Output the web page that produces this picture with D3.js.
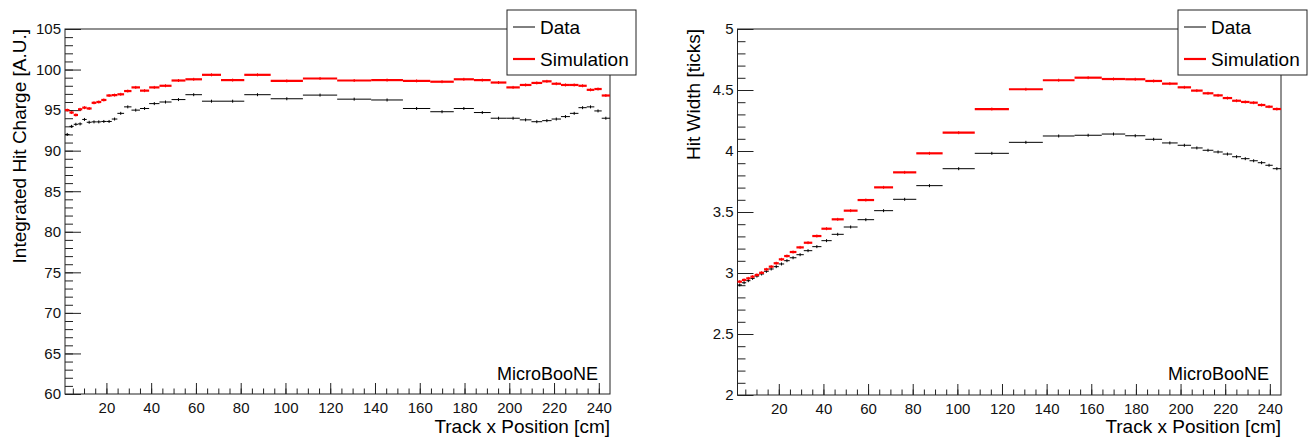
<!DOCTYPE html>
<html>
<head>
<meta charset="utf-8">
<script src="https://cdn.jsdelivr.net/npm/d3@7"></script>
<style>
body{margin:0;background:#fff;}
svg{display:block;font-family:"Liberation Sans",Arial,Helvetica,sans-serif;}
</style>
</head>
<body>
<svg id="chart" width="1312" height="438"></svg>
<script>
// Variable-width bins along the drift coordinate (cm).
const binEdges = [1.5, 3.5, 5.4, 7.3, 9.2, 11.2, 13.4, 15.5, 17.7, 20.0, 22.4, 24.9, 27.9, 31.2,
  35.0, 39.1, 43.7, 49.1, 55.3, 62.7, 71.2, 81.6, 93.4, 107.8, 123.1, 138.3, 152.5, 164.7,
  175.2, 184.2, 191.7, 198.7, 204.7, 209.9, 214.7, 218.9, 223.1, 227.1, 230.9, 234.6, 238.0,
  241.3, 245.0];

// Integrated hit charge [A.U.]
const chargeData = [92.0, 93.0, 93.25, 93.3, 93.85, 93.5, 93.55, 93.55, 93.6, 93.6, 93.9, 94.6,
  95.4, 95.0, 95.2, 95.8, 96.0, 96.3, 96.9, 96.1, 96.1, 96.9, 96.4, 96.85, 96.35, 96.25, 95.2,
  94.8, 95.2, 94.7, 94.0, 94.0, 93.8, 93.57, 93.7, 93.9, 94.2, 94.6, 95.3, 95.4, 94.9, 94.0];
const chargeSim = [95.0, 94.7, 94.4, 95.1, 95.3, 95.2, 95.9, 96.0, 96.25, 96.8, 96.85, 96.95,
  97.35, 97.8, 97.4, 97.8, 98.0, 98.65, 98.8, 99.35, 98.7, 99.35, 98.6, 98.9, 98.65, 98.7,
  98.6, 98.5, 98.8, 98.7, 98.4, 97.8, 98.1, 98.35, 98.55, 98.25, 98.1, 98.1, 98.0, 97.5,
  97.6, 96.8];

// Hit width [ticks]
const widthData = [2.902, 2.920, 2.937, 2.956, 2.975, 2.992, 3.014, 3.033, 3.052, 3.074, 3.101,
  3.125, 3.150, 3.183, 3.216, 3.265, 3.317, 3.377, 3.437, 3.511, 3.604, 3.716, 3.855, 3.981,
  4.071, 4.123, 4.129, 4.139, 4.125, 4.096, 4.066, 4.047, 4.025, 4.006, 3.992, 3.975, 3.953,
  3.937, 3.920, 3.904, 3.883, 3.855];
const widthSim = [2.929, 2.943, 2.956, 2.970, 2.984, 3.002, 3.030, 3.052, 3.080, 3.112, 3.139,
  3.172, 3.210, 3.248, 3.303, 3.363, 3.440, 3.511, 3.598, 3.702, 3.825, 3.981, 4.150, 4.344,
  4.506, 4.580, 4.601, 4.590, 4.588, 4.574, 4.552, 4.522, 4.495, 4.473, 4.456, 4.434, 4.412,
  4.402, 4.396, 4.377, 4.363, 4.344];

const xTicks = [20, 40, 60, 80, 100, 120, 140, 160, 180, 200, 220, 240];
const chargeTicks = [60, 65, 70, 75, 80, 85, 90, 95, 100, 105];
const widthTicks = [2, 2.5, 3, 3.5, 4, 4.5, 5];
const legendLabels = ["Data", "Simulation"];
const seriesColors = ["#000", "#ff0000"];

const svg = d3.select("#chart");

function drawPanel(cfg){
	let g = svg.append("g");

	let x = d3.scaleLinear().domain([binEdges[0], binEdges[binEdges.length-1]]).range([cfg.left, cfg.right]);
	let y = d3.scaleLinear().domain(cfg.yDomain).range([cfg.bottom, cfg.top]);

	// Minor ticks first, then the labelled major ones (ROOT style, ticks inside the frame).
	g.append("g")
	  .attr("transform", `translate(0,${cfg.bottom})`)
	  .call(d3.axisBottom(x).tickValues(d3.range(5, 245, 5)).tickSize(-5.5).tickFormat(""))
	  .call(a=>a.select(".domain").remove());
	g.append("g")
	  .attr("transform", `translate(0,${cfg.bottom})`)
	  .call(d3.axisBottom(x).tickValues(xTicks).tickSize(-11).tickPadding(8).tickFormat(d3.format("d")))
	  .call(a=>a.select(".domain").remove());

	g.append("g")
	  .attr("transform", `translate(${cfg.left},0)`)
	  .call(d3.axisLeft(y).tickValues(d3.range(cfg.yDomain[0], cfg.yDomain[1]+1e-9, cfg.minorStep)).tickSize(-8).tickFormat(""))
	  .call(a=>a.select(".domain").remove());
	g.append("g")
	  .attr("transform", `translate(${cfg.left},0)`)
	  .call(d3.axisLeft(y).tickValues(cfg.yTicks).tickSize(-16).tickPadding(4).tickFormat(cfg.fmt))
	  .call(a=>a.select(".domain").remove());

	g.selectAll(".tick line").attr("stroke", "#222");
	g.selectAll(".tick text").attr("font-size", 15).attr("fill", "#111").attr("font-family", null);

	// Frame.
	g.append("rect")
	  .attr("x", cfg.left).attr("y", cfg.top)
	  .attr("width", cfg.right-cfg.left).attr("height", cfg.bottom-cfg.top)
	  .attr("fill", "none").attr("stroke", "#222");

	// Histograms: horizontal bin-width bars with a small error tick at the centre.
	[cfg.data, cfg.sim].forEach((vals, k)=>{
		let bins = vals.map((v,i)=>({x0: binEdges[i], x1: binEdges[i+1], v: v}));
		let hg = g.append("g").attr("stroke", seriesColors[k]).attr("stroke-width", k ? 2.2 : 1);
		hg.selectAll("line.bar")
		  .data(bins)
		  .enter()
		  .append("line")
			.attr("x1", d=>x(d.x0))
			.attr("x2", d=>x(d.x1))
			.attr("y1", d=>y(d.v))
			.attr("y2", d=>y(d.v));
		hg.selectAll("line.err")
		  .data(bins)
		  .enter()
		  .append("line")
			.attr("stroke-width", 1)
			.attr("x1", d=>x((d.x0+d.x1)/2))
			.attr("x2", d=>x((d.x0+d.x1)/2))
			.attr("y1", d=>y(d.v)-1.5)
			.attr("y2", d=>y(d.v)+1.5);
	});

	// Axis titles.
	g.append("text")
	  .attr("transform", `translate(${cfg.yTitleX},${cfg.top}) rotate(-90)`)
	  .attr("text-anchor", "end")
	  .attr("font-size", 19)
	  .text(cfg.yTitle);
	g.append("text")
	  .attr("x", cfg.right).attr("y", 433)
	  .attr("text-anchor", "end")
	  .attr("font-size", 19)
	  .text("Track x Position [cm]");

	g.append("text")
	  .attr("x", cfg.right-12).attr("y", 380)
	  .attr("text-anchor", "end")
	  .attr("font-size", 18)
	  .text("MicroBooNE");

	// Legend.
	let lx = cfg.right-103;
	let lg = g.append("g").attr("transform", `translate(${lx},10)`);
	lg.append("rect").attr("width", 129).attr("height", 65).attr("fill", "#fff").attr("stroke", "#222");
	legendLabels.forEach((name, k)=>{
		lg.append("line")
		  .attr("x1", 6).attr("x2", 28)
		  .attr("y1", 17+k*32).attr("y2", 17+k*32)
		  .attr("stroke", seriesColors[k]).attr("stroke-width", k ? 2.2 : 1);
		lg.append("text")
		  .attr("x", 33).attr("y", 24+k*32)
		  .attr("font-size", 19)
		  .text(name);
	});
} // drawPanel

drawPanel({left: 65, right: 610, top: 29, bottom: 394, yDomain: [60, 105], yTicks: chargeTicks,
  minorStep: 1, fmt: d3.format("d"), yTitle: "Integrated Hit Charge [A.U.]", yTitleX: 26,
  data: chargeData, sim: chargeSim});

drawPanel({left: 737.5, right: 1281, top: 29, bottom: 395, yDomain: [2, 5], yTicks: widthTicks,
  minorStep: 0.1, fmt: d=>String(d), yTitle: "Hit Width [ticks]", yTitleX: 700,
  data: widthData, sim: widthSim});
</script>
</body>
</html>
